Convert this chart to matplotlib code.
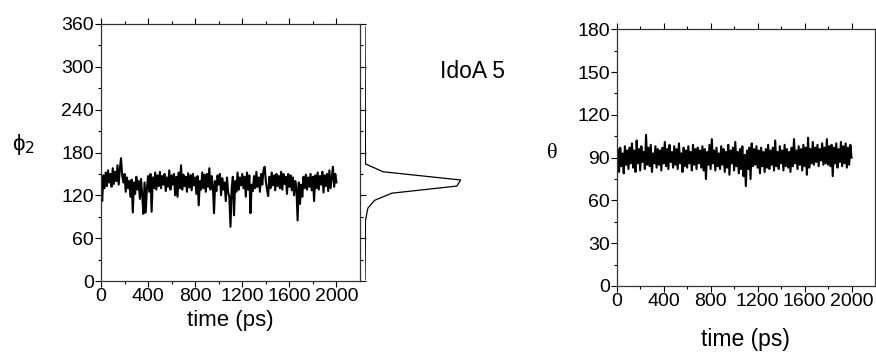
import numpy as np
import matplotlib
matplotlib.use('Agg')
import matplotlib.pyplot as plt

plt.rcParams['font.family'] = ['Liberation Sans', 'DejaVu Sans']

# time axis (ps), one sample every 10 ps
time_ps = np.arange(0, 2010, 10)

# phi_2 trajectory (deg)
phi2 = [135, 112, 148, 130, 152, 133, 155, 138, 150, 132,
        158, 136, 153, 140, 162, 135, 157, 172, 148, 138,
        150, 125, 145, 130, 140, 118, 142, 96, 138, 122,
        146, 128, 140, 115, 143, 120, 94, 138, 96, 130,
        147, 125, 150, 97, 145, 130, 152, 128, 148, 133,
        153, 130, 147, 135, 150, 126, 145, 132, 155, 128,
        148, 135, 150, 120, 146, 118, 152, 130, 162, 128,
        149, 133, 146, 125, 151, 131, 148, 127, 150, 134,
        145, 122, 147, 106, 140, 128, 152, 130, 149, 125,
        150, 132, 158, 128, 147, 135, 95, 140, 126, 148,
        135, 150, 120, 144, 128, 138, 112, 145, 124, 118,
        76, 130, 146, 92, 140, 125, 152, 128, 145, 134,
        150, 130, 146, 118, 152, 128, 148, 95, 135, 126,
        147, 130, 153, 132, 145, 125, 150, 135, 155, 160,
        140, 128, 119, 146, 130, 152, 134, 148, 127, 150,
        133, 147, 130, 153, 128, 150, 136, 146, 122, 150,
        132, 148, 127, 145, 120, 140, 130, 85, 138, 108,
        135, 118, 146, 130, 149, 128, 145, 132, 150, 127,
        146, 112, 148, 130, 152, 128, 147, 135, 153, 124,
        148, 133, 150, 126, 155, 130, 145, 160, 132, 150,
        138]

# theta trajectory (deg)
theta = [90, 96, 80, 97, 84, 93, 79, 98, 85, 95,
         82, 97, 86, 100, 83, 95, 80, 102, 86, 96,
         81, 98, 87, 94, 82, 106, 85, 97, 84, 99,
         80, 93, 86, 98, 83, 96, 85, 95, 81, 97,
         86, 101, 84, 96, 82, 99, 87, 94, 83, 98,
         85, 96, 82, 100, 86, 93, 80, 97, 84, 95,
         83, 98, 86, 94, 81, 99, 85, 96, 82, 97,
         86, 95, 83, 98, 81, 96, 75, 94, 85, 99,
         82, 103, 86, 95, 81, 97, 84, 93, 82, 98,
         85, 96, 80, 94, 83, 99, 78, 95, 86, 97,
         81, 101, 84, 94, 79, 96, 82, 98, 77, 92,
         70, 95, 82, 97, 75, 100, 84, 96, 85, 98,
         83, 95, 79, 97, 84, 94, 80, 96, 83, 99,
         82, 95, 85, 97, 81, 102, 84, 94, 82, 98,
         86, 95, 81, 99, 84, 96, 83, 94, 80, 97,
         84, 103, 86, 95, 82, 98, 85, 96, 81, 99,
         84, 97, 78, 104, 83, 96, 86, 101, 85, 97,
         87, 99, 84, 96, 88, 100, 85, 97, 86, 103,
         85, 98, 84, 99, 77, 97, 86, 100, 83, 96,
         87, 101, 84, 98, 86, 100, 83, 97, 85, 99,
         90]

# phi_2 distribution (relative counts vs angle)
hist_angle = [2, 85, 102, 113, 123, 133, 141.5, 153, 164, 356]
hist_count = [0, 0.005, 0.03, 0.10, 0.28, 0.96, 1.0, 0.19, 0.005, 0]

W, H = 876, 353
fig = plt.figure(figsize=(W/100, H/100), dpi=100)

def px_axes(l, t, r, b):
    return fig.add_axes([l/W, 1-b/H, (r-l)/W, (b-t)/H])

def style(ax):
    ax.tick_params(which='both', direction='out', top=True, right=True,
                   labelsize=14, width=0.8, pad=1)
    ax.tick_params(which='major', length=4)
    ax.tick_params(which='minor', length=2.5)
    for s in ax.spines.values():
        s.set_linewidth(0.9)
        s.set_color('#333333')

ax1 = px_axes(101, 24, 360, 281)
ax1.plot(time_ps, phi2, color='black', lw=1.5)
ax1.set_xlim(0, 2200)
ax1.set_ylim(0, 360)
ax1.set_xticks([0, 400, 800, 1200, 1600, 2000])
ax1.set_xticks(np.arange(200, 2200, 400), minor=True)
ax1.set_yticks(np.arange(0, 361, 60))
ax1.set_yticks(np.arange(30, 360, 60), minor=True)
style(ax1)
ax1.set_xlabel('time (ps)', fontsize=16)
ax1.xaxis.set_label_coords(0.5, -0.152)
ax1.xaxis.label.set_va('center')
ax1.set_ylabel('ϕ$_2$', fontsize=16, rotation=0)
ax1.yaxis.set_label_coords(-0.3, 0.53)
ax1.yaxis.label.set_va('center')

axh = px_axes(365, 24, 475, 281)
axh.plot(hist_count, hist_angle, color='black', lw=0.9)
axh.set_xlim(0, 1.15)
axh.set_ylim(0, 360)
axh.axis('off')

fig.text(472/W, 1-72/H, 'IdoA 5', fontsize=16.5, ha='center', va='center')

ax2 = px_axes(616.7, 29.3, 875, 286)
ax2.plot(time_ps, theta, color='black', lw=1.5)
ax2.set_xlim(0, 2200)
ax2.set_ylim(0, 180)
ax2.set_xticks([0, 400, 800, 1200, 1600, 2000])
ax2.set_xticks(np.arange(200, 2200, 400), minor=True)
ax2.set_yticks(np.arange(0, 181, 30))
ax2.set_yticks(np.arange(15, 180, 30), minor=True)
style(ax2)
ax2.set_xlabel('time (ps)', fontsize=16.5)
ax2.xaxis.set_label_coords(0.5, -0.21)
ax2.xaxis.label.set_va('center')
ax2.set_ylabel('θ', fontsize=16, rotation=0, family=['Liberation Serif', 'DejaVu Serif'])
ax2.yaxis.set_label_coords(-0.25, 0.518)
ax2.yaxis.label.set_va('center')

fig.savefig('out.png', dpi=100)
